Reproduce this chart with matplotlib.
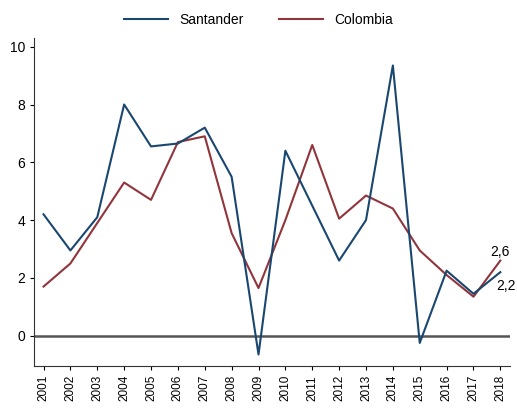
import numpy as np
import matplotlib.pyplot as plt

plt.rcParams['font.family'] = ['Liberation Sans', 'DejaVu Sans']

years = list(range(2001, 2019))
santander = [4.2, 2.95, 4.1, 8.0, 6.55, 6.65, 7.2, 5.5, -0.65, 6.4, 4.5, 2.6, 4.0, 9.35, -0.25, 2.25, 1.45, 2.2]
colombia = [1.7, 2.5, 3.9, 5.3, 4.7, 6.7, 6.9, 3.55, 1.65, 4.0, 6.6, 4.05, 4.85, 4.4, 2.95, 2.1, 1.35, 2.6]

fig = plt.figure(figsize=(5.17, 4.09), dpi=100)
ax = fig.add_axes([0.066, 0.105, 0.92, 0.802])

ax.axhline(0, color='#555555', lw=1.8, zorder=1)
ax.plot(years, santander, color='#1a476f', lw=1.5, label='Santander', zorder=3)
ax.plot(years, colombia, color='#90353b', lw=1.5, label='Colombia', zorder=2)

# end labels
ax.text(2018, 2.9, '2,6', ha='center', va='center', fontsize=10)
ax.text(2018.2, 1.72, '2,2', ha='center', va='center', fontsize=10)

ax.set_xlim(2000.65, 2018.35)
ax.set_ylim(-1.05, 10.3)
ax.set_yticks([0, 2, 4, 6, 8, 10])
ax.set_xticks(years)
ax.set_xticklabels([str(y) for y in years], rotation=90, fontsize=8.5)
ax.tick_params(axis='y', labelsize=10, length=3)
ax.tick_params(axis='x', length=3)
for s in ['top', 'right']:
    ax.spines[s].set_visible(False)
ax.spines['left'].set_color('#333333')
ax.spines['bottom'].set_color('#333333')

fig.legend(loc='upper center', bbox_to_anchor=(0.5, 1.0), ncol=2, frameon=False,
           fontsize=10, handlelength=3.2, columnspacing=2.5)

fig.savefig('out.png', dpi=100)
